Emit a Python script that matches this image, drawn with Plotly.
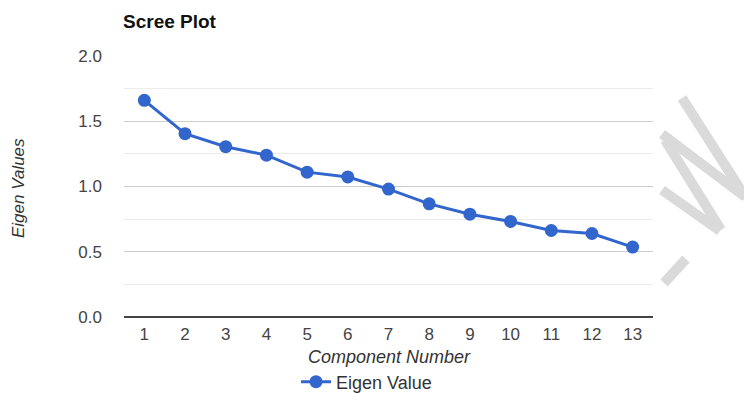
import plotly.graph_objects as go

components = list(range(1, 14))
eigen_values = [1.66, 1.405, 1.305, 1.24, 1.11, 1.073, 0.98, 0.867, 0.788, 0.732, 0.663, 0.64, 0.536]
tick_labels = [str(c) for c in components]

# the page body has an 8px margin; work in screenshot pixels and shift
OFF = 8
W, H = 752 - OFF, 393 - OFF
ML, MT = 124 - OFF, 56 - OFF
PLOT_R, PLOT_B = 653 - OFF, 317 - OFF
MR, MB = W - PLOT_R, H - PLOT_B
PW, PH = W - ML - MR, H - MT - MB

def px(x, y):
    return (x - OFF - ML) / PW, (H - MB - (y - OFF)) / PH

BLUE = "#3366cc"
FONT = "Liberation Sans, Arial, sans-serif"

fig = go.Figure()
fig.add_trace(go.Scatter(
    x=components, y=eigen_values, mode="lines+markers", name="Eigen Value",
    line=dict(color=BLUE, width=3),
    marker=dict(color=BLUE, size=13),
))

# watermark strokes (decoration), drawn as separate segments
wm_segments = [
    ((682, 98), (746, 198)),
    ((662, 134), (744, 196)),
    ((665, 140), (721, 230)),
    ((662, 190), (720, 231)),
    ((686, 259), (664, 283)),
]
shapes = []
for (a, b) in wm_segments:
    x0, y0 = px(*a)
    x1, y1 = px(*b)
    shapes.append(dict(type="line", xref="paper", yref="paper", x0=x0, y0=y0, x1=x1, y1=y1,
                       line=dict(color="#dadada", width=10), layer="above"))

fig.update_layout(
    width=W, height=H,
    margin=dict(l=ML, r=MR, t=MT, b=MB, autoexpand=False),
    paper_bgcolor="white", plot_bgcolor="white",
    font=dict(family=FONT, size=17, color="#444"),
    title=dict(text="<b>Scree Plot</b>", x=(123 - OFF) / W, xanchor="left", y=1 - (21 - OFF) / H,
               yanchor="middle", font=dict(size=19, color="#111")),
    xaxis=dict(range=[0.5, 13.5], tickmode="array", tickvals=components, ticktext=tick_labels,
               showgrid=False, zeroline=False, showline=False, ticks="",
               ticklabelstandoff=5, fixedrange=True),
    yaxis=dict(range=[0, 2], dtick=0.5, tickformat=".1f", showgrid=True, gridcolor="#cccccc",
               gridwidth=1, zeroline=True, zerolinecolor="#444", zerolinewidth=2,
               minor=dict(dtick=0.25, showgrid=True, gridcolor="#ececec"),
               ticks="", ticklabelstandoff=21, showline=False),
    showlegend=True,
    legend=dict(orientation="h", x=px(296, 0)[0], xanchor="left", y=px(0, 382)[1], yanchor="middle",
                font=dict(size=18, color="#333"), itemwidth=30),
    annotations=[
        dict(text="<i>Component Number</i>", xref="paper", yref="paper", x=px(389, 0)[0], y=px(0, 357)[1],
             showarrow=False, xanchor="center", yanchor="middle", font=dict(size=18, color="#333")),
        dict(text="<i>Eigen Values</i>", xref="paper", yref="paper", x=px(18, 0)[0], y=px(0, 188)[1],
             textangle=-90, showarrow=False, xanchor="center", yanchor="middle",
             font=dict(size=17, color="#333")),
    ],
    shapes=shapes,
)

fig.write_html("out.html")
